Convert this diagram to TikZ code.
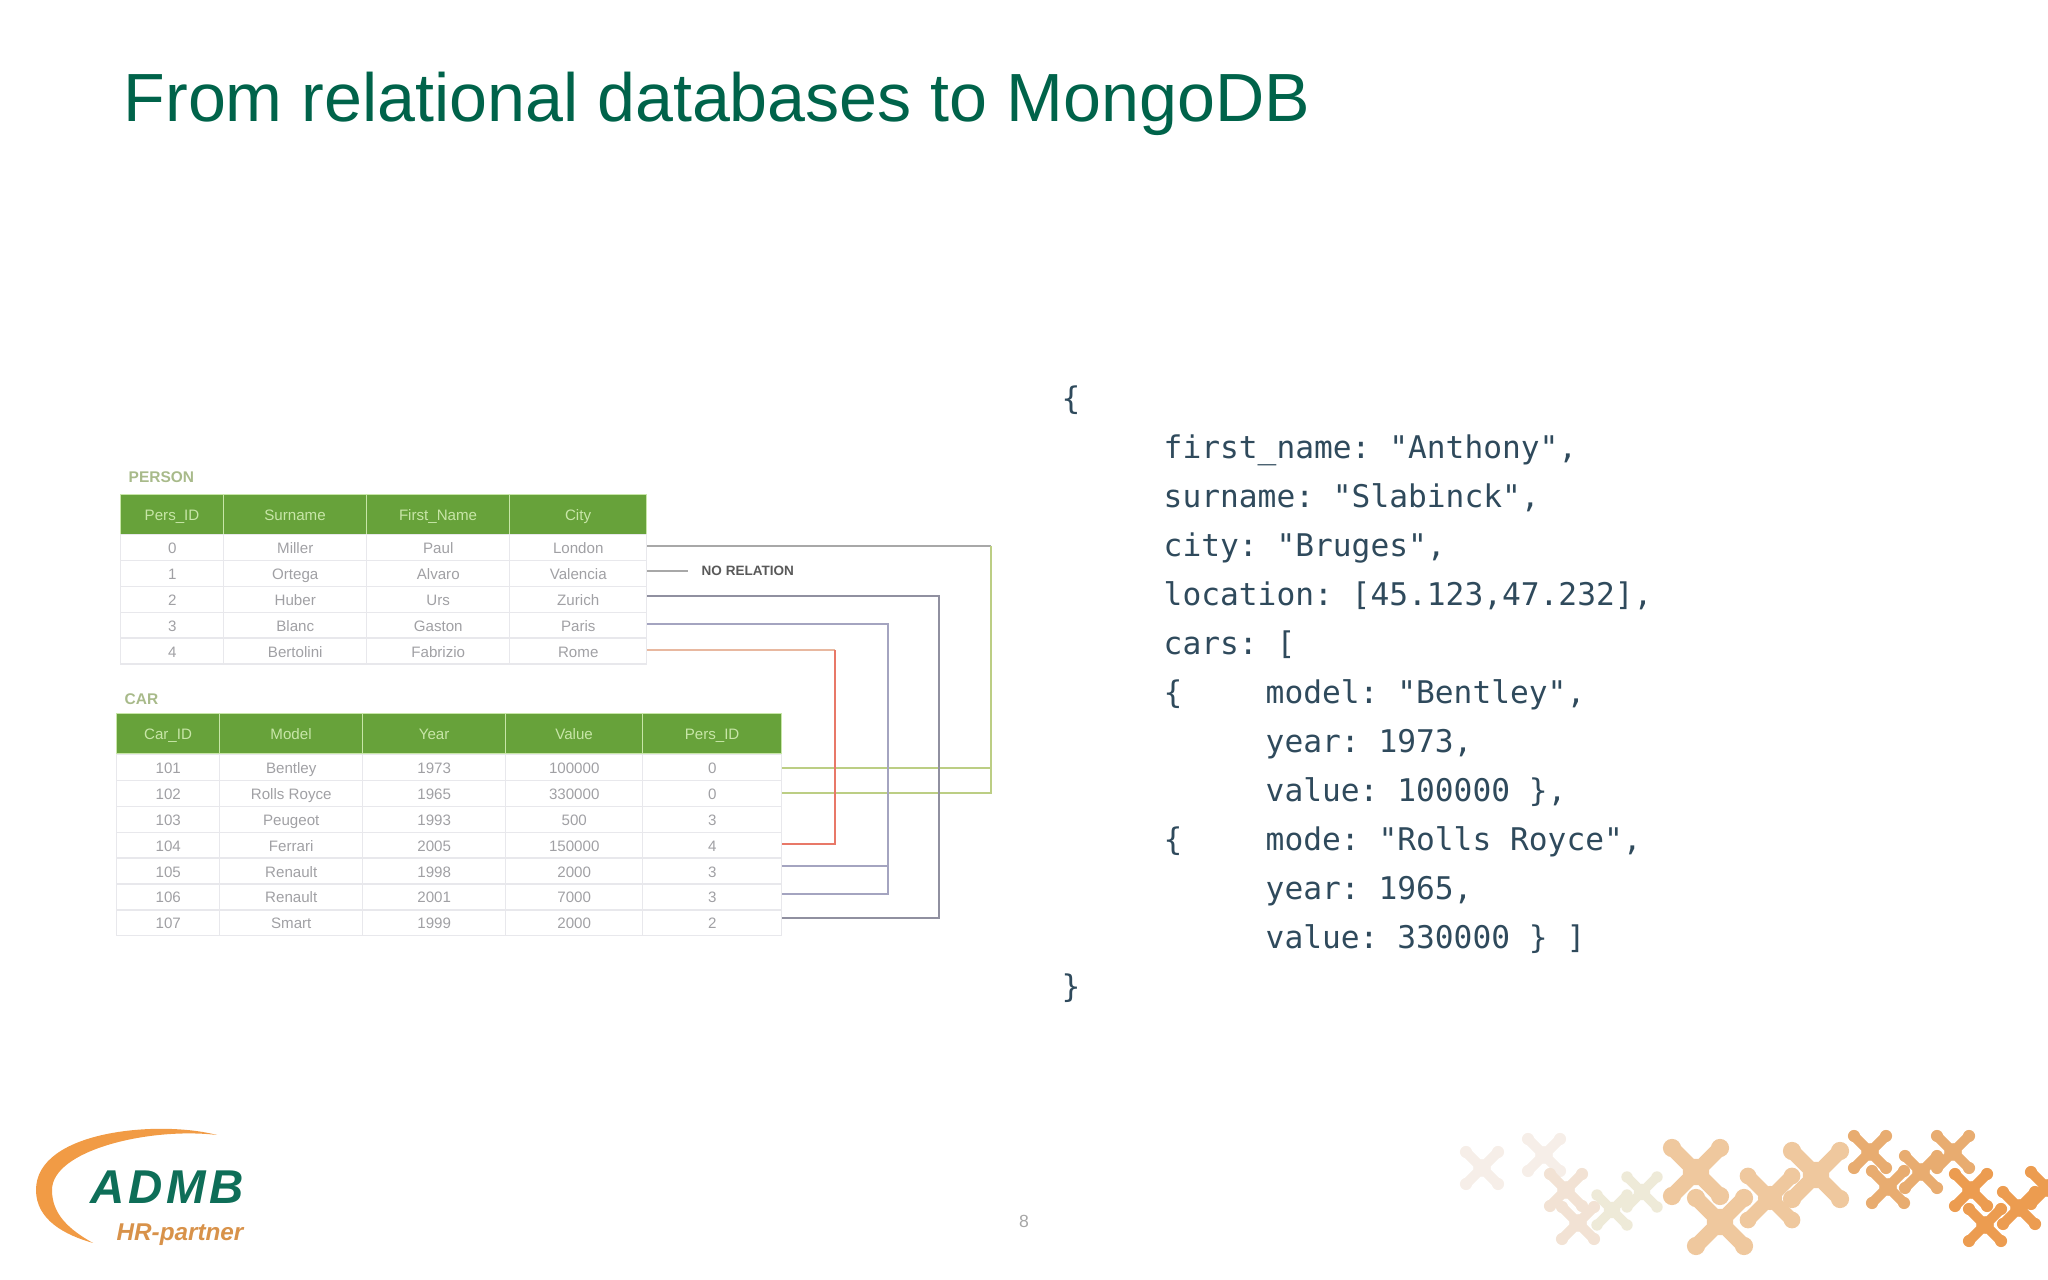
\documentclass[tikz,border=0pt]{standalone}
\usepackage{fontspec}
\setmainfont{Liberation Sans}
\setmonofont{DejaVu Sans Mono}
\usetikzlibrary{calc}

\definecolor{titleGreen}{HTML}{00634A}
\definecolor{headGreen}{HTML}{67A23A}
\definecolor{headText}{HTML}{C8E6A8}
\definecolor{labelGreen}{HTML}{A8BA8A}
\definecolor{cellLine}{HTML}{E8E8EC}
\definecolor{cellText}{HTML}{A0A0A4}
\definecolor{codeText}{HTML}{2F4A5C}
\definecolor{linkGrey}{HTML}{A8A8A8}
\definecolor{linkGreen}{HTML}{BCCE84}
\definecolor{linkDark}{HTML}{9090A0}
\definecolor{linkBlue}{HTML}{A4A4C0}
\definecolor{linkRed}{HTML}{E87868}
\definecolor{linkPeach}{HTML}{E8B8A0}
\definecolor{logoGreen}{HTML}{0E6E58}
\definecolor{logoOrange}{HTML}{F09030}
\definecolor{logoTan}{HTML}{D8924A}
\definecolor{molFaint}{HTML}{F6EEE8}
\definecolor{molOlive}{HTML}{EEEAD8}
\definecolor{molPale}{HTML}{F2E2D4}
\definecolor{molMid}{HTML}{EFC89E}
\definecolor{molWarm}{HTML}{E8AC70}
\definecolor{molDeep}{HTML}{EC9C50}

\tikzset{
  headCell/.style={fill=headGreen, draw=headText, line width=0.3pt, text=headText, font=\fontsize{4.3}{5}\selectfont, minimum height=0.40cm, inner sep=0pt, text height=3.8pt, text depth=0.4pt, anchor=north west},
  rowCell/.style={draw=cellLine, line width=0.4pt, text=cellText, font=\fontsize{4.3}{5}\selectfont, minimum height=0.2586cm, inner sep=0pt, text height=3.8pt, text depth=0.4pt, anchor=north west},
  tableLabel/.style={text=labelGreen, font=\fontsize{4.4}{5}\bfseries\selectfont, inner sep=0pt},
  codeLine/.style={text=codeText, font=\fontsize{8.88}{10}\ttfamily\selectfont, anchor=base west, inner sep=0pt},
  link/.style={line width=0.55pt}
}

\begin{document}
% x and y are pixels of the slide
\begin{tikzpicture}[x=0.01cm,y=-0.01cm]
  \useasboundingbox (0,0) rectangle (2048,1280);

  \node[text=titleGreen, font=\fontsize{19.39}{24}\selectfont, anchor=base west, inner sep=0pt] (titleNode) at (123,122) {From relational databases to MongoDB};

  % person table
  \node[tableLabel, anchor=west] (personLabel) at (128,477) {PERSON};
  \node[headCell, minimum width=1.03cm] (personHeadA) at (120,494) {Pers\_ID};
  \node[headCell, minimum width=1.43cm] (personHeadB) at (223,494) {Surname};
  \node[headCell, minimum width=1.43cm] (personHeadC) at (366,494) {First\_Name};
  \node[headCell, minimum width=1.37cm] (personHeadD) at (509,494) {City};
  \foreach \i/\a/\b/\c/\d in {0/0/Miller/Paul/London, 1/1/Ortega/Alvaro/Valencia, 2/2/Huber/Urs/Zurich, 3/3/Blanc/Gaston/Paris, 4/4/Bertolini/Fabrizio/Rome} {
    \node[rowCell, minimum width=1.03cm] (personA\i) at (120,534+25.86*\i) {\a};
    \node[rowCell, minimum width=1.43cm] (personB\i) at (223,534+25.86*\i) {\b};
    \node[rowCell, minimum width=1.43cm] (personC\i) at (366,534+25.86*\i) {\c};
    \node[rowCell, minimum width=1.37cm] (personD\i) at (509,534+25.86*\i) {\d};
  }

  % car table
  \node[tableLabel, anchor=west] (carLabel) at (124,699) {CAR};
  \node[headCell, minimum width=1.03cm] (carHeadA) at (116,713) {Car\_ID};
  \node[headCell, minimum width=1.43cm] (carHeadB) at (219,713) {Model};
  \node[headCell, minimum width=1.43cm] (carHeadC) at (362,713) {Year};
  \node[headCell, minimum width=1.37cm] (carHeadD) at (505,713) {Value};
  \node[headCell, minimum width=1.39cm] (carHeadE) at (642,713) {Pers\_ID};
  \foreach \i/\a/\b/\c/\d/\e in {0/101/Bentley/1973/100000/0, 1/102/Rolls Royce/1965/330000/0, 2/103/Peugeot/1993/500/3, 3/104/Ferrari/2005/150000/4, 4/105/Renault/1998/2000/3, 5/106/Renault/2001/7000/3, 6/107/Smart/1999/2000/2} {
    \node[rowCell, minimum width=1.03cm] (carA\i) at (116,754+25.86*\i) {\a};
    \node[rowCell, minimum width=1.43cm] (carB\i) at (219,754+25.86*\i) {\b};
    \node[rowCell, minimum width=1.43cm] (carC\i) at (362,754+25.86*\i) {\c};
    \node[rowCell, minimum width=1.37cm] (carD\i) at (505,754+25.86*\i) {\d};
    \node[rowCell, minimum width=1.39cm] (carE\i) at (642,754+25.86*\i) {\e};
  }

  % links between the tables
  \coordinate (cornerGreen) at (991,546);
  \coordinate (cornerDark) at (939,596);
  \coordinate (cornerBlue) at (888,624);
  \coordinate (cornerRed) at (835,650);
  \coordinate (endGreenA) at (991,768);
  \coordinate (endGreenB) at (991,793);
  \coordinate (endRed) at (835,844);
  \coordinate (endBlueA) at (888,866);
  \coordinate (endBlueB) at (888,894);
  \coordinate (endDark) at (939,918);
  \draw[link, linkGrey] (personD0.east |- cornerGreen) -- (cornerGreen);
  \draw[link, linkGreen] (cornerGreen) -- (endGreenB) -- (carE1.east |- endGreenB);
  \draw[link, linkGreen] (endGreenA) -- (carE0.east |- endGreenA);
  \draw[link, linkDark, line width=0.7pt] (personD2.east |- cornerDark) -- (cornerDark) -- (endDark) -- (carE6.east |- endDark);
  \draw[link, linkBlue, line width=0.7pt] (personD3.east |- cornerBlue) -- (cornerBlue) -- (endBlueB) -- (carE5.east |- endBlueB);
  \draw[link, linkBlue, line width=0.7pt] (endBlueA) -- (carE4.east |- endBlueA);
  \draw[link, linkPeach] (personD4.east |- cornerRed) -- (cornerRed);
  \draw[link, linkRed] (cornerRed) -- (endRed) -- (carE3.east |- endRed);

  \coordinate (noRelEnd) at (688,571);
  \draw[link, linkGrey] (personD1.east |- noRelEnd) -- (noRelEnd);
  \node[anchor=west, inner sep=0pt, text=black!65, font=\fontsize{3.85}{5}\bfseries\selectfont] (noRelNode) at (701,571) {NO RELATION};

  % code
  \node[codeLine] (codeA) at (1061,410) {\{};
  \node[codeLine] (codeB) at (1163,459) {first\_name: "Anthony",};
  \node[codeLine] (codeC) at (1163,508) {surname: "Slabinck",};
  \node[codeLine] (codeD) at (1163,557) {city: "Bruges",};
  \node[codeLine] (codeE) at (1163,606) {location: [45.123,47.232],};
  \node[codeLine] (codeF) at (1163,655) {cars: [};
  \node[codeLine] (codeG) at (1163,704) {\{};
  \node[codeLine] (codeH) at (1265,704) {model: "Bentley",};
  \node[codeLine] (codeI) at (1265,753) {year: 1973,};
  \node[codeLine] (codeJ) at (1265,802) {value: 100000 \},};
  \node[codeLine] (codeK) at (1163,851) {\{};
  \node[codeLine] (codeL) at (1265,851) {mode: "Rolls Royce",};
  \node[codeLine] (codeM) at (1265,900) {year: 1965,};
  \node[codeLine] (codeN) at (1265,949) {value: 330000 \} ]};
  \node[codeLine] (codeO) at (1061,998) {\}};

  \node[text=gray!70, font=\fontsize{5}{6}\selectfont, inner sep=0pt] (pageNode) at (1024,1221) {8};

  % logo
  \fill[logoOrange!90] (217,1135) .. controls (160,1120) and (36,1130) .. (36,1190) .. controls (36,1220) and (65,1235) .. (93,1243) .. controls (70,1230) and (52,1215) .. (52,1190) .. controls (52,1150) and (150,1127) .. (217,1135);
  \node[text=logoGreen, font=\fontsize{13.5}{16}\bfseries\itshape\selectfont, inner sep=0pt] (logoNode) at (167,1187) {A\kern1pt D\kern1pt M\kern1pt B};
  \node[text=logoTan, font=\fontsize{6.9}{8}\bfseries\itshape\selectfont, inner sep=0pt] (hrNode) at (180,1235) {HR-partner};

  % molecules
  \foreach \cx/\cy/\s/\col in {
    1482/1168/16/molFaint, 1544/1155/16/molFaint,
    1566/1190/16/molPale, 1578/1223/16/molPale, 1612/1210/15/molOlive, 1642/1192/15/molOlive,
    1696/1172/24/molMid, 1720/1222/24/molMid, 1770/1198/22/molMid, 1816/1175/24/molMid,
    1870/1152/16/molWarm, 1888/1187/16/molWarm, 1921/1172/16/molWarm, 1953/1152/16/molWarm,
    1971/1190/16/molDeep, 1985/1225/16/molDeep, 2019/1208/16/molDeep, 2047/1188/16/molDeep} {
    \begin{scope}[shift={(\cx,\cy)}]
      \draw[\col, line width=\s*0.18pt] (-\s,-\s) -- (\s,\s);
      \draw[\col, line width=\s*0.18pt] (-\s,\s) -- (\s,-\s);
      \fill[\col] (-\s,-\s) circle [radius=\s*0.38*0.01cm];
      \fill[\col] (\s,-\s) circle [radius=\s*0.38*0.01cm];
      \fill[\col] (-\s,\s) circle [radius=\s*0.38*0.01cm];
      \fill[\col] (\s,\s) circle [radius=\s*0.38*0.01cm];
      \fill[\col] (0,0) circle [radius=\s*0.55*0.01cm];
    \end{scope}
  }
\end{tikzpicture}
\end{document}
